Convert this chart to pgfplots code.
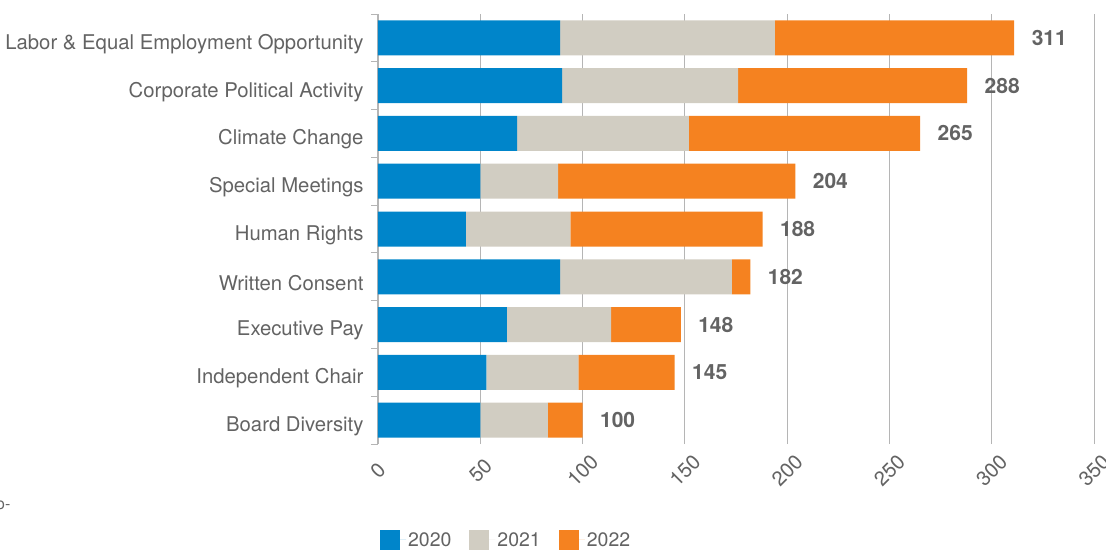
\documentclass[border=0pt]{standalone}
\usepackage{pgfplots}
\pgfplotsset{compat=1.18}
\usepackage{fontspec}
\setmainfont{TeX Gyre Heros}
\definecolor{cA}{HTML}{0085CA}
\definecolor{cB}{HTML}{D1CDC2}
\definecolor{cC}{HTML}{F58220}
\definecolor{tg}{HTML}{636363}
\definecolor{gl}{HTML}{B5B5B5}
\pgfplotsset{common/.style={width=716pt, height=430pt, scale only axis,
  xmin=0, xmax=350, ymin=-0.5, ymax=8.5, bar width=35pt}}
\begin{document}
\begin{tikzpicture}
\begin{axis}[common,
  xbar stacked,
  xtick={0,50,...,350},
  ytick={0,...,8},
  yticklabels={Board Diversity, Independent Chair, Executive Pay, Written Consent, Human Rights, Special Meetings, Climate Change, Corporate Political Activity, Labor \& Equal Employment Opportunity},
  minor ytick={-0.5,0.5,...,8.5},
  major tick length=0pt, minor tick length=7pt,
  tick align=outside,
  axis y line*=left, axis x line*=bottom,
  x axis line style={draw=none},
  y axis line style={gl, line width=1pt},
  minor tick style={gl, line width=1pt},
  xmajorgrids, major grid style={gl, line width=0.9pt},
  /pgf/number format/assume math mode=true,
  ticklabel style={font=\fontsize{20.3}{24}\selectfont, text=tg},
  yticklabel style={xshift=-11pt, yshift=-6pt},
  xticklabel style={rotate=45, anchor=center, xshift=-19pt, yshift=-19pt},
  legend style={at={(rel axis cs:0.179,-0.223)}, anchor=center, draw=none,
    font=\fontsize{19.5}{23}\selectfont, text=tg, legend columns=3,
    /tikz/every even column/.append style={column sep=16pt}},
  legend image code/.code={\fill[#1,draw=none] (0pt,-10pt) rectangle (20pt,10pt); \path (0pt,0pt) -- (26pt,0pt);},
]
\addplot[fill=cA, draw=none] coordinates {(50,0) (53,1) (63,2) (89,3) (43,4) (50,5) (68,6) (90,7) (89,8)};
\addplot[fill=cB, draw=none] coordinates {(33,0) (45,1) (51,2) (84,3) (51,4) (38,5) (84,6) (86,7) (105,8)};
\addplot[fill=cC, draw=none] coordinates {(17,0) (47,1) (34,2) (9,3) (94,4) (116,5) (113,6) (112,7) (117,8)};
\legend{2020,2021,2022}
\coordinate (o) at (rel axis cs:0,0);
\end{axis}
\begin{axis}[common, xbar, hide axis]
\addplot[draw=none, fill=none, point meta=explicit symbolic, nodes near coords,
  nodes near coords style={anchor=west, xshift=14pt, font=\fontsize{21}{24}\selectfont\bfseries, text=tg}]
  coordinates {(100,0)[100] (145,1)[145] (148,2)[148] (182,3)[182] (188,4)[188] (204,5)[204] (265,6)[265] (288,7)[288] (311,8)[311]};
\end{axis}
\node[text=tg, font=\fontsize{16}{18}\selectfont, anchor=west, inner sep=0pt] at ([shift={(-382pt,-61pt)}]o) {o-};
\pgfresetboundingbox
\path ([shift={(-378pt,-105pt)}]o) rectangle ([shift={(728pt,444pt)}]o);
\end{tikzpicture}
\end{document}
